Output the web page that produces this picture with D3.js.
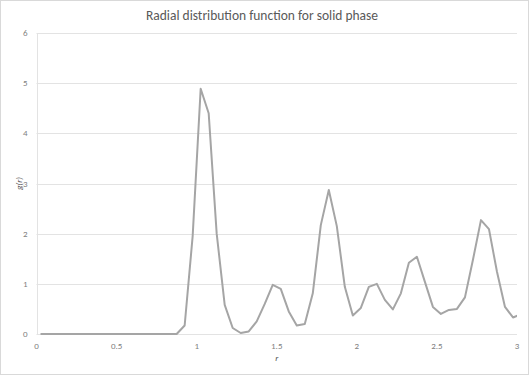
<!DOCTYPE html>
<html>
<head>
<meta charset="utf-8">
<script src="https://cdn.jsdelivr.net/npm/d3@7"></script>
<style>
  body { margin: 0; background: #fff; }
  svg { display: block; font-family: Calibri, Carlito, "Open Sans", sans-serif; }
</style>
</head>
<body>
<div id="chart"></div>
<script>
// r values (bin centres) and g(r)
const rValues = [
    0.025, 0.075, 0.125, 0.175, 0.225, 0.275, 0.325, 0.375, 0.425, 0.475,
    0.525, 0.575, 0.625, 0.675, 0.725, 0.775, 0.825, 0.875, 0.925, 0.975,
    1.025, 1.075, 1.125, 1.175, 1.225, 1.275, 1.325, 1.375, 1.425, 1.475,
    1.525, 1.575, 1.625, 1.675, 1.725, 1.775, 1.825, 1.875, 1.925, 1.975,
    2.025, 2.075, 2.125, 2.175, 2.225, 2.275, 2.325, 2.375, 2.425, 2.475,
    2.525, 2.575, 2.625, 2.675, 2.725, 2.775, 2.825, 2.875, 2.925, 2.975,
    3.025
];
const gValues = [
    0, 0, 0, 0, 0, 0, 0, 0, 0, 0,
    0, 0, 0, 0, 0, 0, 0, 0, 0.17, 1.95,
    4.89, 4.4, 2.0, 0.58, 0.12, 0.02, 0.05, 0.25, 0.6, 0.98,
    0.9, 0.45, 0.17, 0.2, 0.81, 2.17, 2.87, 2.15, 0.94, 0.37,
    0.52, 0.94, 1.0, 0.68, 0.49, 0.81, 1.42, 1.54, 1.04, 0.54,
    0.4, 0.48, 0.5, 0.73, 1.48, 2.27, 2.09, 1.24, 0.54, 0.33,
    0.39
];
const xTicks = [0, 0.5, 1, 1.5, 2, 2.5, 3];
const yTicks = [0, 1, 2, 3, 4, 5, 6];

const width = 529, height = 375;
const margin = { top: 33, right: 12, bottom: 41, left: 36.5 };

const svg = d3.select('#chart').append('svg')
    .attr('width', width)
    .attr('height', height);

// outer chart border
svg.append('rect')
    .attr('x', 0.5).attr('y', 0.5)
    .attr('width', width - 1).attr('height', height - 1)
    .attr('fill', '#fff')
    .attr('stroke', '#d9d9d9');

const x = d3.scaleLinear().domain([0, 3]).range([margin.left, width - margin.right]);
const y = d3.scaleLinear().domain([0, 6]).range([height - margin.bottom, margin.top]);

// gridlines
svg.append('g')
    .selectAll('line')
    .data(yTicks)
    .enter()
    .append('line')
    .attr('x1', x(0))
    .attr('x2', x(3))
    .attr('y1', d => Math.round(y(d)) + 0.5)
    .attr('y2', d => Math.round(y(d)) + 0.5)
    .attr('stroke', '#e3e3e3')
    .attr('stroke-width', 1);

// left axis line
svg.append('line')
    .attr('x1', Math.round(x(0)) + 0.5)
    .attr('x2', Math.round(x(0)) + 0.5)
    .attr('y1', y(6))
    .attr('y2', y(0))
    .attr('stroke', '#e3e3e3');

// tick labels
svg.append('g')
    .selectAll('text')
    .data(yTicks)
    .enter()
    .append('text')
    .attr('x', x(0) - 9)
    .attr('y', d => y(d) + 3)
    .attr('text-anchor', 'end')
    .style('font-size', '9px')
    .attr('fill', '#7f7f7f')
    .text(d => d);

svg.append('g')
    .selectAll('text')
    .data(xTicks)
    .enter()
    .append('text')
    .attr('x', d => x(d))
    .attr('y', y(0) + 15)
    .attr('text-anchor', 'middle')
    .style('font-size', '9px')
    .attr('fill', '#7f7f7f')
    .text(d => d);

// clip to plot area
svg.append('clipPath')
    .attr('id', 'plot-clip')
    .append('rect')
    .attr('x', x(0))
    .attr('y', y(6) - 5)
    .attr('width', x(3) - x(0))
    .attr('height', y(0) - y(6) + 10);

const points = rValues.map((r, i) => ({ r: r, g: gValues[i] }));

const line = d3.line()
    .x(d => x(d.r))
    .y(d => y(d.g));

svg.append('path')
    .datum(points)
    .attr('clip-path', 'url(#plot-clip)')
    .attr('d', line)
    .attr('fill', 'none')
    .attr('stroke', '#a5a5a5')
    .attr('stroke-width', 2)
    .attr('stroke-linejoin', 'round');

// title
svg.append('text')
    .attr('x', 262)
    .attr('y', 20)
    .attr('text-anchor', 'middle')
    .style('font-size', '13.5px')
    .attr('fill', '#595959')
    .text('Radial distribution function for solid phase');

// axis titles
svg.append('text')
    .attr('x', (x(0) + x(3)) / 2)
    .attr('y', 361)
    .attr('text-anchor', 'middle')
    .style('font-size', '9px')
    .style('font-style', 'italic')
    .attr('fill', '#595959')
    .text('r');

svg.append('text')
    .attr('transform', `translate(22, ${(y(0) + y(6)) / 2}) rotate(-90)`)
    .attr('text-anchor', 'middle')
    .style('font-size', '9px')
    .style('font-style', 'italic')
    .attr('fill', '#595959')
    .text('g(r)');
</script>
</body>
</html>
